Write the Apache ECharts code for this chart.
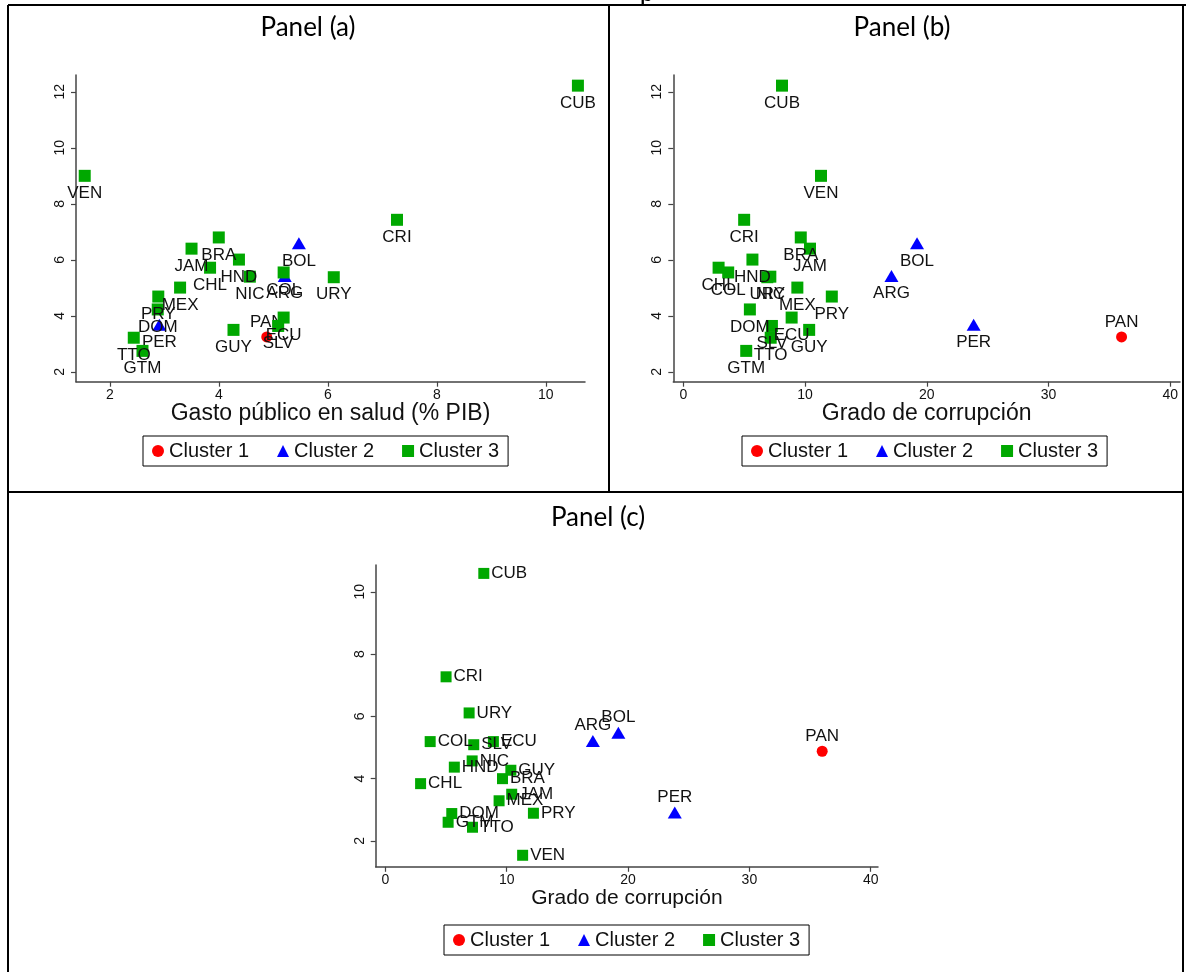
<!DOCTYPE html>
<html>
<head>
<meta charset="utf-8">
<script src="https://cdn.jsdelivr.net/npm/echarts@6/dist/echarts.min.js"></script>
<style>
html,body{margin:0;padding:0;background:#fff;}
#chart{width:1186px;height:972px;}
</style>
</head>
<body>
<div id="chart"></div>
<script>
// ---- data ----
const countries = ['ARG','BOL','BRA','CHL','COL','CRI','CUB','DOM','ECU','GTM','GUY','HND','JAM','MEX','NIC','PAN','PER','PRY','SLV','TTO','URY','VEN'];
const cluster   = [2,2,3,3,3,3,3,3,3,3,3,3,3,3,3,1,2,3,3,3,3,3];
const gastoSalud = [5.21,5.47,4.00,3.84,5.19,7.27,10.59,2.88,5.19,2.60,4.27,4.37,3.50,3.29,4.57,4.88,2.91,2.89,5.09,2.44,6.11,1.54];
const corrupcion = [17.1,19.2,9.65,2.90,3.69,5.00,8.11,5.47,8.90,5.17,10.34,5.68,10.41,9.37,7.15,36.0,23.85,12.2,7.28,7.18,6.90,11.31];
const indicador  = [5.42,6.59,6.80,5.72,5.55,7.43,12.22,4.23,3.94,2.75,3.50,6.01,6.40,5.01,5.40,3.25,3.68,4.69,3.64,3.22,5.38,9.00];
const clusterNames = ['Cluster 1','Cluster 2','Cluster 3'];
const ticksGasto = [2,4,6,8,10];
const ticksIndicador = [2,4,6,8,10,12];
const ticksCorrupcion = [0,10,20,30,40];
const ticksGastoY = [2,4,6,8,10];
const panelTitles = ['Panel (a)','Panel (b)','Panel (c)'];
const xTitles = ['Gasto público en salud (% PIB)','Grado de corrupción','Grado de corrupción'];

// ---- styles ----
const colors = {1:'#ff0000',2:'#0000ff',3:'#00a800'};
const symbols = {1:'circle',2:'triangle',3:'rect'};
const symSizes = {1:11,2:[14,12],3:12};
const symSizesC = {1:11,2:[14,12],3:11};
const FONT = 'Liberation Sans, Arial, sans-serif';

function axisCommon(ticks){
  return {
    axisLine:{show:true,onZero:false,lineStyle:{color:'#444',width:1.5}},
    axisTick:{show:true,length:5,inside:false,customValues:ticks,lineStyle:{color:'#444',width:1.2}},
    axisLabel:{customValues:ticks,color:'#111',fontFamily:FONT,fontSize:14,margin:6},
    splitLine:{show:false}
  };
}

const grids = [
  {left:76, top:75, width:509, height:306.7},
  {left:673.3, top:75, width:506.7, height:306.7},
  {left:375.7, top:565, width:502.3, height:301.8}
];
grids.forEach(g=>{g.outerBoundsMode='none'; g.containLabel=false;});

const xAxes = [
  Object.assign({type:'value',gridIndex:0,min:1.38,max:10.72,name:xTitles[0],nameLocation:'middle',nameGap:19,
    nameTextStyle:{fontFamily:FONT,fontSize:23,color:'#111',verticalAlign:'top'}}, axisCommon(ticksGasto)),
  Object.assign({type:'value',gridIndex:1,min:-0.82,max:40.8,name:xTitles[1],nameLocation:'middle',nameGap:19,
    nameTextStyle:{fontFamily:FONT,fontSize:23,color:'#111',verticalAlign:'top'}}, axisCommon(ticksCorrupcion)),
  Object.assign({type:'value',gridIndex:2,min:-0.8,max:40.6,name:xTitles[2],nameLocation:'middle',nameGap:18,
    nameTextStyle:{fontFamily:FONT,fontSize:21,color:'#111',verticalAlign:'top'}}, axisCommon(ticksCorrupcion))
];
const yAxes = [
  Object.assign({type:'value',gridIndex:0,min:1.65,max:12.6}, axisCommon(ticksIndicador)),
  Object.assign({type:'value',gridIndex:1,min:1.65,max:12.6}, axisCommon(ticksIndicador)),
  Object.assign({type:'value',gridIndex:2,min:1.17,max:10.86}, axisCommon(ticksGastoY))
];
yAxes.forEach(a=>{a.axisLabel.rotate=90; a.axisLabel.margin=9;});

const panels = [
  {x:gastoSalud, y:indicador, pos:{1:'top',2:'bottom',3:'bottom'}, sizes:symSizes},
  {x:corrupcion, y:indicador, pos:{1:'top',2:'bottom',3:'bottom'}, sizes:symSizes},
  {x:corrupcion, y:gastoSalud, pos:{1:'top',2:'top',3:'right'}, sizes:symSizesC}
];

const series = [];
panels.forEach((p,pi)=>{
  [1,2,3].forEach(c=>{
    const data = [];
    countries.forEach((name,i)=>{
      if(cluster[i]===c) data.push({name:name,value:[p.x[i],p.y[i]]});
    });
    const pos = p.pos[c];
    series.push({
      type:'scatter', name:clusterNames[c-1], xAxisIndex:pi, yAxisIndex:pi,
      symbol:symbols[c], symbolSize:p.sizes[c],
      itemStyle:{color:colors[c],opacity:1},
      label:{show:true,position:pos,distance: pos==='right'?2:(pos==='top'?1:3),
        formatter:'{b}',color:'#111',fontFamily:FONT,fontSize:17},
      emphasis:{disabled:true},
      data:data, z:2+c
    });
  });
});

function legendAt(left,top){
  return {left:left,top:top,orient:'horizontal',data:clusterNames,
    borderColor:'#000',borderWidth:1,padding:[5,9,5,9],itemGap:28,itemWidth:12,itemHeight:12,
    textStyle:{fontFamily:FONT,fontSize:20,color:'#111'},selectedMode:false};
}

const L = '#000';
const graphic = [
  {type:'text',x:647,y:6,style:{text:'p',font:'26px Lato, sans-serif',fill:'#000',textAlign:'center',textVerticalAlign:'bottom'}},
  {type:'line',shape:{x1:8,y1:5,x2:1186,y2:5},style:{stroke:L,lineWidth:2}},
  {type:'line',shape:{x1:8,y1:5,x2:8,y2:972},style:{stroke:L,lineWidth:2}},
  {type:'line',shape:{x1:1183,y1:5,x2:1183,y2:972},style:{stroke:L,lineWidth:2}},
  {type:'line',shape:{x1:609,y1:5,x2:609,y2:492},style:{stroke:L,lineWidth:2}},
  {type:'line',shape:{x1:8,y1:492,x2:1183,y2:492},style:{stroke:L,lineWidth:2}},
  {type:'text',x:308,y:28,style:{text:panelTitles[0],font:'26px Lato, sans-serif',fill:'#000',textAlign:'center',textVerticalAlign:'middle'}},
  {type:'text',x:902,y:28,style:{text:panelTitles[1],font:'26px Lato, sans-serif',fill:'#000',textAlign:'center',textVerticalAlign:'middle'}},
  {type:'text',x:598,y:518,style:{text:panelTitles[2],font:'26px Lato, sans-serif',fill:'#000',textAlign:'center',textVerticalAlign:'middle'}}
];

const chart = echarts.init(document.getElementById('chart'),null,{renderer:'canvas'});
chart.setOption({
  animation:false,
  backgroundColor:'#fff',
  grid:grids,
  xAxis:xAxes,
  yAxis:yAxes,
  legend:[legendAt(143,436),legendAt(742,436),legendAt(444,925)],
  series:series,
  graphic:graphic
});
</script>
</body>
</html>
